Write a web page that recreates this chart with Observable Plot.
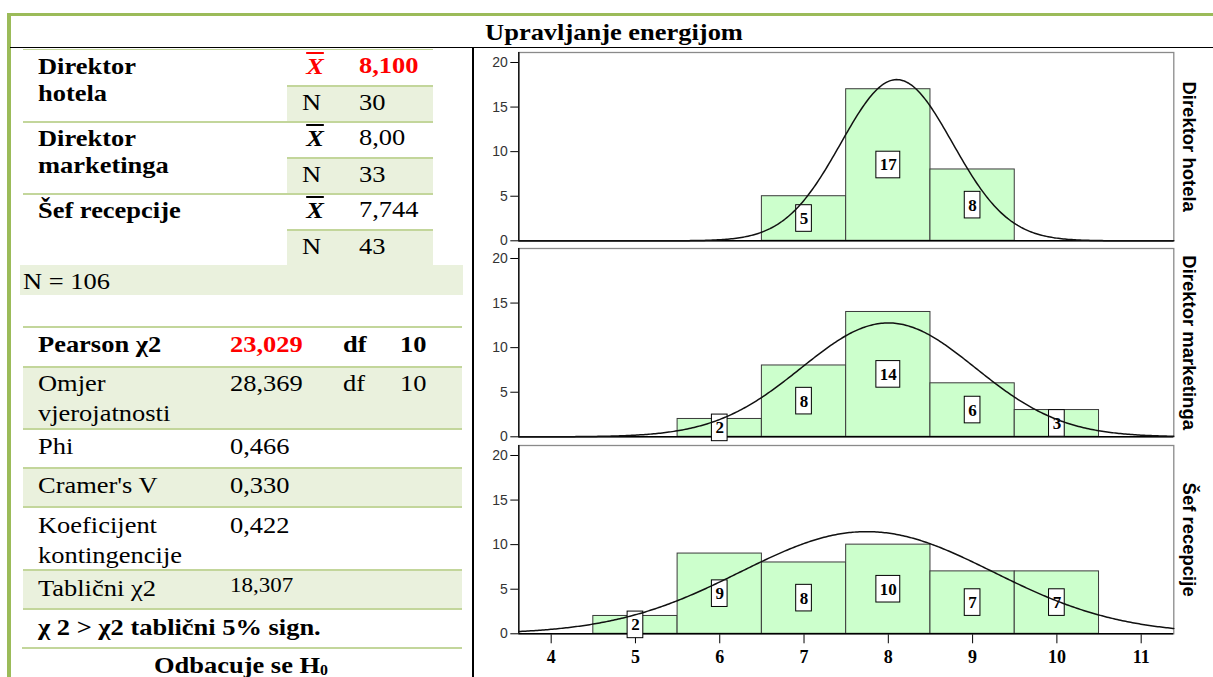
<!DOCTYPE html>
<html><head><meta charset="utf-8">
<script src="https://cdn.jsdelivr.net/npm/d3@7"></script>
<script src="https://cdn.jsdelivr.net/npm/@observablehq/plot@0.6"></script>
<style>
html,body{margin:0;padding:0;background:#fff;width:1213px;height:677px;overflow:hidden;position:relative;}
.t{position:absolute;white-space:nowrap;line-height:1;font-family:"Liberation Serif","Times New Roman",serif;font-size:23px;color:#000;transform-origin:0 50%;transform:scaleX(1.15);}
.t.c{transform-origin:50% 50%;transform:translateX(-50%) scaleX(1.15);}
.b{font-weight:bold}
.i{font-style:italic}
.r{color:#ff0000}
.ov{text-decoration:overline;text-decoration-thickness:2px}
.blk{position:absolute}
.panel{position:absolute;left:475px;overflow:visible}
.panel svg{overflow:visible}
.panel [aria-label^="y-axis"] text{font-family:"Liberation Sans",Arial,sans-serif;font-size:14px;fill:#333}
.panel [aria-label^="x-axis"] text{font-family:"Liberation Serif","Times New Roman",serif;font-weight:bold;font-size:18px;fill:#000}
sub{font-size:60%;vertical-align:-0.15em}
</style>
</head><body>
<script>
// ---------- data ----------
const groups = ["Direktor hotela", "Direktor marketinga", "Šef recepcije"];
const hotelBins = [7, 8, 9];
const hotelCounts = [5, 17, 8];
const marketingBins = [6, 7, 8, 9, 10];
const marketingCounts = [2, 8, 14, 6, 3];
const recepcijaBins = [5, 6, 7, 8, 9, 10];
const recepcijaCounts = [2, 9, 8, 10, 7, 7];
const groupMeans = [8.1, 8.0, 7.744];
const groupSDs = [0.662, 1.031, 1.497];
const groupNs = [30, 33, 43];
const xTicks = [4, 5, 6, 7, 8, 9, 10, 11];
const yTicks = [0, 5, 10, 15, 20];

const chartTitle = "Upravljanje energijom";
const meanLabels = ["8,100", "8,00", "7,744"];
const nLabels = ["30", "33", "43"];
const totalLabel = "N = 106";
const statNames = [["Pearson χ2"], ["Omjer", "vjerojatnosti"], ["Phi"], ["Cramer's V"], ["Koeficijent", "kontingencije"], ["Tablični χ2"]];
const statValues = ["23,029", "28,369", "0,466", "0,330", "0,422", "18,307"];
const statDf = ["10", "10", "", "", "", ""];
const conclusion1 = "χ 2 > χ2 tablični 5% sign.";
const conclusion2 = "Odbacuje se H";

// ---------- helpers ----------
function box(x, y, w, h, color) {
  const d = document.createElement("div");
  d.className = "blk";
  Object.assign(d.style, {left: x + "px", top: y + "px", width: w + "px", height: h + "px", background: color});
  document.body.appendChild(d);
}
function txt(s, x, base, cls = "", size = 23, html = false) {
  const d = document.createElement("div");
  d.className = "t " + cls;
  d.style.fontSize = size + "px";
  d.style.left = x + "px";
  d.style.top = (base - 0.8375 * size) + "px";
  if (html) d.innerHTML = s; else d.textContent = s;
  document.body.appendChild(d);
}

// ---------- table decoration ----------
const shade = "#eaf1dd", lineC = "#c3d69b";
[[287, 86.5, 146, 34], [287, 158.5, 146, 34], [287, 230.5, 146, 34], [20, 264.5, 443, 30.5],
 [23, 367.5, 439, 60.5], [23, 468.5, 439, 37.5], [23, 570.5, 439, 37.5]].forEach(([x, y, w, h]) => box(x, y, w, h, shade));
[[48.5, 23, 433, 1.5], [84.5, 287, 433, 2], [120.5, 23, 433, 2], [156.5, 287, 433, 2], [192.5, 23, 433, 2], [228.5, 287, 433, 2],
 [326, 23, 462, 2], [365.5, 23, 462, 2], [428, 23, 462, 2], [466.5, 23, 462, 2], [506, 23, 462, 2], [568.5, 23, 462, 2],
 [608, 23, 462, 2], [647, 22, 462, 2]].forEach(([y, x0, x1, t]) => box(x0, y, x1 - x0, t, lineC));
// outer frame
box(7, 13, 1206, 3, "#9bbb59");
box(7, 13, 3.5, 664, "#9bbb59");
box(10, 46.5, 1203, 1.6, "#000");
box(472, 46.5, 1.6, 631, "#000");

// ---------- table text ----------
txt(chartTitle, 614, 40, "c b");
const grpLines = [["Direktor", "hotela"], ["Direktor", "marketinga"], ["Šef recepcije"]];
grpLines.forEach((lines, i) => {
  const off = i * 72;
  lines.forEach((l, k) => txt(l, 38, 74.7 + off + k * 27, "b"));
  txt("X", 315, 74 + off, "c b i ov" + (i === 0 ? " r" : ""));
  txt(meanLabels[i], 359, 73.5 + off, i === 0 ? "b r" : "");
  txt("N", 302, 110 + off, "");
  txt(nLabels[i], 359, 110 + off, "");
});
txt(totalLabel, 23, 289.5, "");
const statBase = [352.7, 391.7, 454.3, 493, 533, 596.7];
statNames.forEach((lines, i) => {
  const bold = i === 0 ? "b" : "";
  lines.forEach((l, k) => txt(l, 38, statBase[i] + k * 30, bold));
  txt(statValues[i], 230, i === 5 ? 591.7 : statBase[i], i === 0 ? "b r" : "", i === 5 ? 20 : 23);
  if (statDf[i]) {
    txt("df", 343, statBase[i], bold);
    txt(statDf[i], 400, statBase[i], bold);
  }
});
txt(conclusion1, 38, 635, "b");
txt(conclusion2 + "<sub>0</sub>", 241, 673.5, "c b", 23, true);

// ---------- histogram panels ----------
const X0 = 3.616, X1 = 11.387;
function panel(i, bins, counts, top, showX) {
  const data = bins.map((b, j) => ({bin: b, count: counts[j]}));
  const mu = groupMeans[i], sd = groupSDs[i], n = groupNs[i];
  const curve = d3.range(X0, X1 + 1e-9, 0.02).concat([X1]).map(x => ({
    x, y: n * Math.exp(-0.5 * ((x - mu) / sd) ** 2) / (sd * Math.sqrt(2 * Math.PI))
  }));
  const mb = showX ? 44.3 : 5;
  const svg = Plot.plot({
    width: 738, height: 5 + 188.3 + mb,
    marginTop: 5, marginBottom: mb, marginLeft: 43.3, marginRight: 39.7,
    style: {background: "transparent", overflow: "visible"},
    x: {domain: [X0, X1], ticks: xTicks, tickSize: 10, tickPadding: 6, label: null, axis: showX ? "bottom" : null, tickFormat: d => String(d)},
    y: {domain: [0, 21.12], ticks: yTicks, tickSize: 8, tickPadding: 3, label: null, tickFormat: d => String(d)},
    marks: [
      Plot.frame({stroke: "#8a8a8a", strokeWidth: 1.3}),
      Plot.rectY(data, {x1: d => d.bin - 0.5, x2: d => d.bin + 0.5, y: "count", fill: "#ccffcc", stroke: "#3a3a3a", strokeWidth: 1}),
      Plot.ruleY([0], {stroke: "#000", strokeWidth: 1.5}),
      Plot.ruleX([X0], {stroke: "#000", strokeWidth: 1.3}),
      Plot.rect(data.filter(d => d.count < 10), {x1: d => d.bin - 0.5, x2: d => d.bin + 0.5, y1: d => d.count / 2, y2: d => d.count / 2,
        insetLeft: 34.3, insetRight: 34.3, insetTop: -13.3, insetBottom: -13.3, fill: "#fff", stroke: "#000", strokeWidth: 1}),
      Plot.rect(data.filter(d => d.count >= 10), {x1: d => d.bin - 0.5, x2: d => d.bin + 0.5, y1: d => d.count / 2, y2: d => d.count / 2,
        insetLeft: 30.2, insetRight: 30.2, insetTop: -13.3, insetBottom: -13.3, fill: "#fff", stroke: "#000", strokeWidth: 1}),
      Plot.text(data, {x: "bin", y: d => d.count / 2, text: d => String(d.count), fontWeight: "bold", fontSize: 17, fontFamily: "Liberation Serif, Times New Roman, serif", fill: "#000"}),
      Plot.line(curve, {x: "x", y: "y", stroke: "#111", strokeWidth: 1.5}),
      Plot.text([groups[i]], {frameAnchor: "right", dx: 15, rotate: 90, textAnchor: "middle", text: d => d, fontSize: 18.5, fontWeight: "bold", fontFamily: "Liberation Sans, Arial, sans-serif", fill: "#000"})
    ]
  });
  const wrap = document.createElement("div");
  wrap.className = "panel";
  wrap.style.top = (top - 5) + "px";
  wrap.appendChild(svg);
  document.body.appendChild(wrap);
}
panel(0, hotelBins, hotelCounts, 51.7, false);
panel(1, marketingBins, marketingCounts, 248.3, false);
panel(2, recepcijaBins, recepcijaCounts, 445, true);
</script>
</body></html>
